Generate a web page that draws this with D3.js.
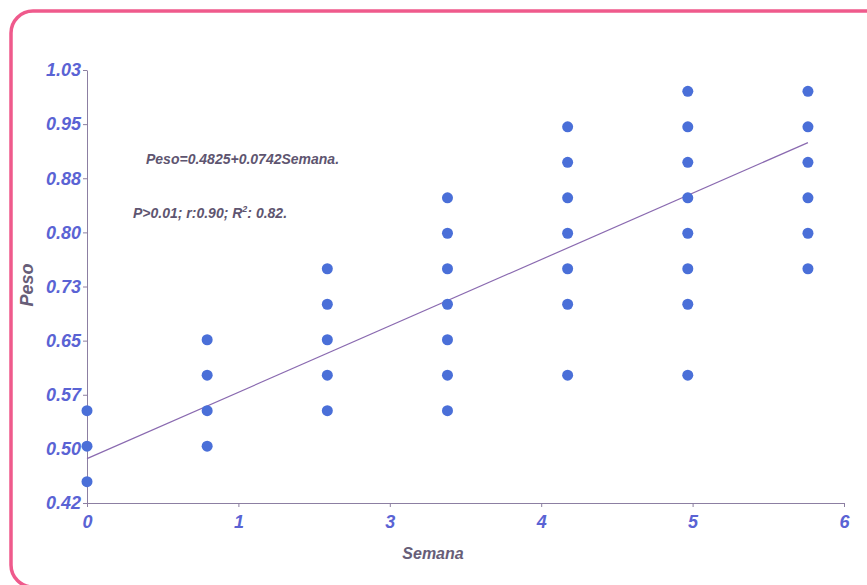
<!DOCTYPE html>
<html><head><meta charset="utf-8">
<script src="https://cdn.jsdelivr.net/npm/d3@7"></script>
<style>
html,body{margin:0;padding:0;background:#fff;}
svg{display:block;}
</style></head>
<body>
<svg id="chart" width="867" height="585"></svg>
<script>
// Data
const weeks = [0,0,0, 1,1,1,1, 2,2,2,2,2, 3,3,3,3,3,3,3, 4,4,4,4,4,4,4, 5,5,5,5,5,5,5,5, 6,6,6,6,6,6];
const peso  = [0.45,0.50,0.55, 0.50,0.55,0.60,0.65, 0.55,0.60,0.65,0.70,0.75,
               0.55,0.60,0.65,0.70,0.75,0.80,0.85, 0.60,0.70,0.75,0.80,0.85,0.90,0.95,
               0.60,0.70,0.75,0.80,0.85,0.90,0.95,1.00, 0.75,0.80,0.85,0.90,0.95,1.00];
const fitX = [0, 6];
const fitY = [0.4825, 0.9277];
const xTickValues = [0, 1.26, 2.52, 3.78, 5.04, 6.3];
const xTickLabels = ["0","1","3","4","5","6"];
const yTickValues = [0.42, 0.49625, 0.5725, 0.64875, 0.725, 0.80125, 0.8775, 0.95375, 1.03];
const yTickLabels = ["0.42","0.50","0.57","0.65","0.73","0.80","0.88","0.95","1.03"];

const svg = d3.select("#chart");
const x = d3.scaleLinear().domain([0, 6.3]).range([87, 844]);
const y = d3.scaleLinear().domain([0.42, 1.03]).range([503, 70]);

// Frame
svg.append("rect").attr("x", 11).attr("y", 11).attr("width", 880).attr("height", 576)
  .attr("rx", 22).attr("fill", "none").attr("stroke", "#ef5a8c").attr("stroke-width", 3.5);

const axisColor = "#8c7fa2";
const labelColor = "#5a63d4";
const tickFont = "bold italic 18px 'Liberation Sans', Arial, sans-serif";

// X axis
const xAxis = d3.axisBottom(x).tickValues(xTickValues)
  .tickFormat((d,i) => xTickLabels[i]).tickSize(4).tickSizeOuter(0);
const gx = svg.append("g").attr("transform", "translate(0,503)").call(xAxis);
gx.select(".domain").attr("stroke", axisColor);
gx.selectAll(".tick line").attr("stroke", axisColor);
gx.selectAll(".tick text").attr("fill", labelColor).attr("dy", "0").attr("y", 25)
  .style("font", tickFont);

// Y axis
const yAxis = d3.axisLeft(y).tickValues(yTickValues)
  .tickFormat((d,i) => yTickLabels[i]).tickSize(4).tickSizeOuter(0);
const gy = svg.append("g").attr("transform", "translate(87,0)").call(yAxis);
gy.select(".domain").attr("stroke", axisColor);
gy.selectAll(".tick line").attr("stroke", axisColor);
gy.selectAll(".tick text").attr("fill", labelColor).attr("x", -6)
  .style("font", tickFont);

// Regression line
svg.append("line")
  .attr("x1", x(fitX[0])).attr("y1", y(fitY[0]))
  .attr("x2", x(fitX[1])).attr("y2", y(fitY[1]))
  .attr("stroke", "#8a6ab0").attr("stroke-width", 1.2);

// Points
svg.append("g").selectAll("circle").data(weeks.map((w,i)=>[w, peso[i]])).join("circle")
  .attr("cx", d => x(d[0])).attr("cy", d => y(d[1])).attr("r", 5.5)
  .attr("fill", "#4a6fd8");

// Axis titles
svg.append("text").attr("x", 433).attr("y", 559).attr("text-anchor", "middle")
  .attr("fill", "#675e78").style("font", "bold italic 16px 'Liberation Sans', Arial, sans-serif")
  .text("Semana");
svg.append("text").attr("transform", "translate(33,285) rotate(-90)").attr("text-anchor", "middle")
  .attr("fill", "#675e78").style("font", "bold italic 18px 'Liberation Sans', Arial, sans-serif")
  .text("Peso");

// Annotations
const annFont = "bold italic 14px 'Liberation Sans Narrow', 'Arial Narrow', 'Liberation Sans', sans-serif";
svg.append("text").attr("x", 146).attr("y", 164).attr("fill", "#5e5570")
  .style("font", annFont).text("Peso=0.4825+0.0742Semana.");
const t2 = svg.append("text").attr("x", 133).attr("y", 218).attr("fill", "#5e5570")
  .style("font", annFont);
t2.append("tspan").text("P>0.01; r:0.90; R");
t2.append("tspan").attr("dy", -6).style("font-size", "9px").text("2");
t2.append("tspan").attr("dy", 6).text(": 0.82.");
</script>
</body></html>
